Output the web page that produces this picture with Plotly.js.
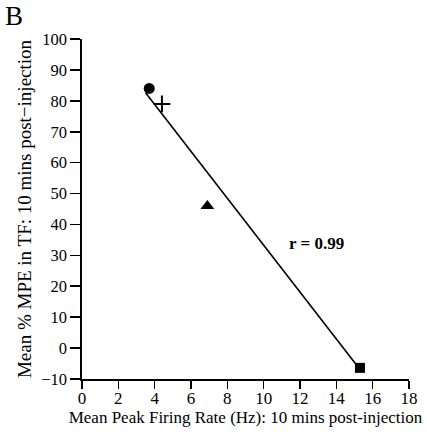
<!DOCTYPE html>
<html><head><meta charset="utf-8">
<script src="https://cdn.plot.ly/plotly-3.0.1.min.js"></script>
<style>html,body{margin:0;padding:0;background:#fff}#plot{width:427px;height:435px}</style>
</head><body><div id="plot"></div>
<script>
// Data points (one per group)
const pointX = [3.7, 4.4, 6.9, 15.3];
const pointY = [84, 79, 46, -6.4];
const pointSymbols = ['circle', 'cross-thin-open', 'triangle-up', 'square'];
// Regression line endpoints
const fitX = [3.5, 15.1];
const fitY = [82.6, -5.4];
const xTicks = [0, 2, 4, 6, 8, 10, 12, 14, 16, 18];
const yTicks = [-10, 0, 10, 20, 30, 40, 50, 60, 70, 80, 90, 100];
const rLabel = 'r = 0.99';

const font = 'Liberation Serif, Times New Roman, serif';
const traces = [
  {x: fitX, y: fitY, mode: 'lines', line: {color: '#000', width: 1.6}, hoverinfo: 'skip'},
];
const sizes = {'circle': 11, 'cross-thin-open': 12, 'triangle-up': 12, 'square': 10};
pointX.forEach((px, i) => {
  const s = pointSymbols[i];
  traces.push({
    x: [px], y: [pointY[i]], mode: 'markers',
    marker: {symbol: s, size: sizes[s], color: '#000',
      line: {color: '#000', width: s === 'cross-thin-open' ? 2 : 0}},
    cliponaxis: false
  });
});

const W = 427, H = 435, M = {l: 82, r: 18, t: 39, b: 56};
const layout = {
  width: W, height: H,
  margin: M,
  showlegend: false,
  paper_bgcolor: '#fff', plot_bgcolor: '#fff',
  font: {family: font, color: '#000', size: 17},
  xaxis: {
    range: [0, 18], tickvals: xTicks, ticktext: xTicks.map(String),
    showgrid: false, zeroline: false, showline: true, linecolor: '#000', linewidth: 1.6,
    ticks: 'outside', ticklen: 8, tickwidth: 1.6, tickcolor: '#000',
    ticklabelstandoff: -5,
    tickfont: {family: font, size: 17},
    title: {text: 'Mean Peak Firing Rate (Hz): 10 mins post-injection', font: {family: font, size: 17}, standoff: 0}
  },
  yaxis: {
    range: [-10, 100], tickvals: yTicks, ticktext: yTicks.map(v => v < 0 ? '\u2212' + Math.abs(v) : String(v)),
    showgrid: false, zeroline: false, showline: true, linecolor: '#000', linewidth: 1.6,
    ticks: 'outside', ticklen: 10, tickwidth: 1.6, tickcolor: '#000',
    tickfont: {family: font, size: 16.5},
    title: {text: 'Mean % MPE in TF: 10 mins post\u2212injection', font: {family: font, size: 19}, standoff: 4}
  },
  annotations: [
    {x: 12.9, y: 33.8, xref: 'x', yref: 'y', text: '<b>' + rLabel + '</b>', showarrow: false,
     font: {family: font, size: 17, color: '#000'}},
    {xref: 'paper', yref: 'paper', x: (14 - M.l) / (W - M.l - M.r), y: 1 + (M.t - 16) / (H - M.t - M.b),
     xanchor: 'center', yanchor: 'middle', text: 'B',
     showarrow: false, font: {family: font, size: 27, color: '#000'}}
  ]
};
Plotly.newPlot('plot', traces, layout, {displayModeBar: false, staticPlot: true});
</script></body></html>
